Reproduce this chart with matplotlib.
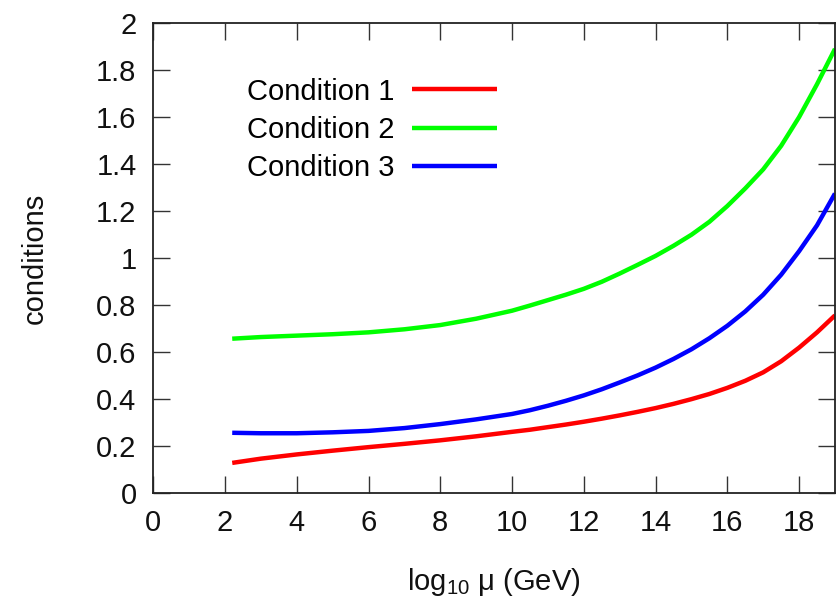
import matplotlib
matplotlib.use("Agg")
import matplotlib.pyplot as plt

#Data
mu_log = [2.2, 3, 4, 5, 6, 7, 8, 9, 10, 10.5, 11, 11.5, 12, 12.5, 13, 13.5, 14, 14.5,
          15, 15.5, 16, 16.5, 17, 17.5, 18, 18.5, 19]

condition_1 = [0.13, 0.148, 0.166, 0.182, 0.197, 0.211, 0.226, 0.243, 0.262, 0.271, 0.282,
               0.293, 0.305, 0.318, 0.332, 0.347, 0.363, 0.381, 0.401, 0.423, 0.449, 0.479,
               0.515, 0.562, 0.62, 0.685, 0.757]
condition_2 = [0.658, 0.665, 0.671, 0.677, 0.685, 0.698, 0.716, 0.743, 0.777, 0.799, 0.822,
               0.845, 0.87, 0.90, 0.935, 0.972, 1.01, 1.053, 1.10, 1.155, 1.222, 1.297,
               1.378, 1.478, 1.60, 1.74, 1.89]
condition_3 = [0.258, 0.256, 0.256, 0.26, 0.266, 0.278, 0.295, 0.315, 0.338, 0.354, 0.373,
               0.394, 0.417, 0.443, 0.472, 0.502, 0.535, 0.572, 0.613, 0.66, 0.713, 0.774,
               0.845, 0.93, 1.03, 1.14, 1.275]

labels = ["Condition 1", "Condition 2", "Condition 3"]
colors = ["#ff0000", "#00ff00", "#0000ff"]

x_ticks = list(range(0, 19, 2))
y_ticks = [0, 0.2, 0.4, 0.6, 0.8, 1, 1.2, 1.4, 1.6, 1.8, 2]
y_tick_labels = ["0", "0.2", "0.4", "0.6", "0.8", "1", "1.2", "1.4", "1.6", "1.8", "2"]

#Fonts
plt.rcParams['font.family'] = ['Liberation Sans', 'DejaVu Sans']
plt.rcParams['mathtext.fontset'] = 'custom'
plt.rcParams['mathtext.rm'] = 'Liberation Sans'
fs = 21

fig = plt.figure(figsize=(8.39, 6.09), dpi=100)
ax = fig.add_axes([0.1827, 0.1897, 0.8125, 0.7725])

# Plot curves
for ys, lab, col in zip([condition_1, condition_2, condition_3], labels, colors):
    ax.plot(mu_log, ys, color=col, linewidth=3.2, label=lab, solid_capstyle='butt')

ax.set_xlim(0, 19)
ax.set_ylim(0, 2)
ax.set_xticks(x_ticks)
ax.set_yticks(y_ticks)
ax.set_yticklabels(y_tick_labels)

# gnuplot-like ticks on all sides, pointing in
ax.tick_params(direction='in', length=12, width=1.0, top=True, right=True,
               labelsize=fs, pad=11, colors='#333333', labelcolor='#111111')
ax.tick_params(axis='y', pad=12)
for sp in ax.spines.values():
    sp.set_linewidth(1.3)
    sp.set_color('#222222')

# Labels
ax.set_xlabel(r'$\mathregular{log_{10}}$ μ (GeV)', fontsize=fs, labelpad=21, color='#111111')
ax.set_ylabel("conditions", fontsize=fs, labelpad=34, color='#111111')

# Legend: text first, line sample after
ax.legend(loc='upper left', bbox_to_anchor=(0.1375, 0.884), frameon=False, markerfirst=False,
          fontsize=fs, handlelength=2.9, handletextpad=0.6, labelspacing=0.35,
          borderpad=0, borderaxespad=0)

plt.savefig("out.png", dpi=100)
